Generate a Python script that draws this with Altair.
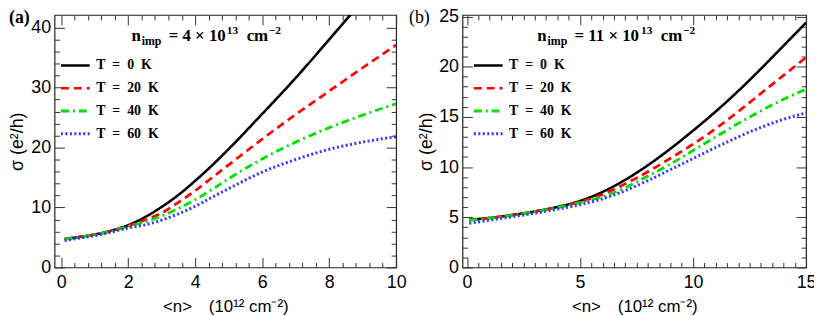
import altair as alt
import pandas as pd

# ---------------- data ----------------
T_LABELS = ["T\u2002=\u20020\u2002K", "T\u2002=\u200220\u2002K",
            "T\u2002=\u200240\u2002K", "T\u2002=\u200260\u2002K"]
LINE_COLORS = ["#000000", "#ff0000", "#00e000", "#3535ff"]
LINE_DASHES = [[1, 0], [8, 5], [8, 4, 2, 4], [2, 2.5]]
LINE_WIDTHS = [2.6, 3.0, 3.0, 1.6]

# panel (a): n_imp = 4e13
n_a = [0.1, 0.5, 1.0, 1.5, 2.0, 2.5, 3.0, 3.5, 4.0, 4.5, 5.0, 6.0, 7.0, 8.0, 9.0, 10.0]
sig_a_T0 = [4.75, 5.05, 5.5, 6.15, 7.05, 8.4, 10.1, 12.1, 14.45, 17.0, 19.75, 25.6, 31.6, 38.0, 44.5, 51.0]
sig_a_T20 = [4.75, 5.05, 5.5, 6.1, 6.95, 7.9, 9.1, 10.85, 12.8, 14.95, 17.1, 21.4, 25.5, 29.4, 33.3, 37.1]
sig_a_T40 = [4.7, 5.0, 5.45, 6.05, 6.85, 7.6, 8.6, 9.85, 11.3, 13.0, 14.8, 18.1, 20.9, 23.3, 25.4, 27.3]
sig_a_T60 = [4.5, 4.85, 5.3, 5.9, 6.6, 7.1, 7.9, 8.95, 10.2, 11.7, 13.15, 15.9, 18.0, 19.7, 20.9, 21.8]

# panel (b): n_imp = 11e13
n_b = [0.1, 1, 2, 3, 4, 5, 6, 7, 8, 9, 10, 11, 12, 13, 14, 15]
sig_b_T0 = [4.75, 4.93, 5.23, 5.58, 6.03, 6.63, 7.53, 8.73, 10.18, 11.83, 13.63, 15.53, 17.58, 19.78, 22.08, 24.38]
sig_b_T20 = [4.75, 4.93, 5.23, 5.58, 5.98, 6.53, 7.28, 8.33, 9.53, 10.88, 12.28, 13.83, 15.53, 17.33, 19.13, 20.93]
sig_b_T40 = [4.7, 4.9, 5.2, 5.55, 5.95, 6.45, 7.05, 7.95, 9.1, 10.3, 11.65, 13.0, 14.35, 15.6, 16.75, 17.75]
sig_b_T60 = [4.4, 4.7, 5.05, 5.4, 5.8, 6.25, 6.85, 7.65, 8.65, 9.75, 10.85, 11.95, 13.0, 13.95, 14.75, 15.4]

# axis ticks
xmaj_a = [0, 2, 4, 6, 8, 10]
xmin_a = [round(0.4 * i, 2) for i in range(1, 25) if i % 5 != 0]
ymaj_a = [0, 10, 20, 30, 40]
ymin_a = [2 * i for i in range(1, 20) if i % 5 != 0]
xmaj_b = [0, 5, 10, 15]
xmin_b = [0.5 * i for i in range(1, 30) if i % 10 != 0]
ymaj_b = [0, 5, 10, 15, 20, 25]
ymin_b = [i for i in range(1, 25) if i % 5 != 0]

XTITLE = "<n>\u2003(10\u00b9\u00b2 cm\u207b\u00b2)"
YTITLE = "\u03c3 (e\u00b2/h)"


def long_df(n, series):
    rows = []
    for lab, ys in zip(T_LABELS, series):
        for x, y in zip(n, ys):
            rows.append({"n": x, "s": y, "T": lab})
    return pd.DataFrame(rows)


SANS = "Liberation Sans"
SERIF = "Liberation Serif"
ONE = pd.DataFrame({"k": [0]})


def tick_axis(orient, vals, size):
    return alt.Axis(orient=orient, values=vals, ticks=True, tickSize=size,
                    offset=-size, labels=False, domain=False, grid=False,
                    title=None, tickColor="#333333", tickWidth=1)


def txt(s, x, y, size, weight="bold", baseline="alphabetic"):
    return alt.Chart(ONE).mark_text(
        text=s, align="left", baseline=baseline, font=SERIF, fontSize=size,
        fontWeight=weight, color="black"
    ).encode(x=alt.value(x), y=alt.value(y))


def panel(df, xdom, ydom, W, H, xmaj, xmin, ymaj, ymin, ytitle_x, leg_x,
          tag, tag_x, tag_weight, ann_x0, ann_num, extra):
    xs = alt.Scale(domain=xdom, nice=False, zero=False)
    ys = alt.Scale(domain=ydom, nice=False, zero=False)
    leg = alt.Legend(title=None, orient="none", legendX=leg_x, legendY=35,
                     symbolType="stroke", symbolSize=841, labelFont=SERIF,
                     labelFontSize=14, labelFontWeight="bold", labelColor="black",
                     rowPadding={"expr": "-2.5"}, labelOffset=5, padding=0,
                     labelLimit=300)
    base = alt.Chart(df)
    lines = base.mark_line(clip=True, interpolate="monotone").encode(
        x=alt.X("n:Q", scale=xs, axis=alt.Axis(
            orient="bottom", values=xmaj, format="d", ticks=False, domain=False,
            grid=False, labelPadding=6, labelFontSize=18, labelFont=SANS,
            labelColor="black", labelFlush=False, labelOverlap=False,
            title=XTITLE, titleFont=SANS, titleFontSize=17, titleFontWeight="normal",
            titleColor="black", titleX=W / 2, titleY=39.5, titleBaseline="middle",
            titleAlign="center")),
        y=alt.Y("s:Q", scale=ys, axis=alt.Axis(
            orient="left", values=ymaj, format="d", ticks=False, domain=False,
            grid=False, labelPadding=4, labelFontSize=18, labelFont=SANS,
            labelColor="black", labelFlush=False, labelOverlap=False,
            title=YTITLE, titleFont=SANS, titleFontSize=18, titleFontWeight="normal",
            titleColor="black", titleX=ytitle_x, titleY=H / 2,
            titleBaseline="middle", titleAlign="center")),
        color=alt.Color("T:N", scale=alt.Scale(domain=T_LABELS, range=LINE_COLORS), legend=leg),
        strokeDash=alt.StrokeDash("T:N", scale=alt.Scale(domain=T_LABELS, range=LINE_DASHES), legend=leg),
        strokeWidth=alt.StrokeWidth("T:N", scale=alt.Scale(domain=T_LABELS, range=LINE_WIDTHS), legend=leg),
    )
    t1 = base.mark_point(opacity=0, clip=True).encode(
        x=alt.X("n:Q", scale=xs, axis=tick_axis("bottom", xmaj, 10)),
        y=alt.Y("s:Q", scale=ys, axis=tick_axis("left", ymaj, 10)))
    t2 = base.mark_point(opacity=0, clip=True).encode(
        x=alt.X("n:Q", scale=xs, axis=tick_axis("bottom", xmin, 5)),
        y=alt.Y("s:Q", scale=ys, axis=tick_axis("left", ymin, 5)))
    t3 = base.mark_point(opacity=0, clip=True).encode(
        x=alt.X("n:Q", scale=xs, axis=tick_axis("top", xmaj, 10)),
        y=alt.Y("s:Q", scale=ys, axis=tick_axis("right", ymaj, 10)))
    t4 = base.mark_point(opacity=0, clip=True).encode(
        x=alt.X("n:Q", scale=xs, axis=tick_axis("top", xmin, 5)),
        y=alt.Y("s:Q", scale=ys, axis=tick_axis("right", ymin, 5)))
    texts = [
        txt(tag, tag_x, 3, 18, weight=tag_weight, baseline="middle"),
        txt("n", ann_x0, 26, 17),
        txt("imp", ann_x0 + 10.2, 30, 12),
        txt("= " + ann_num + " \u00d7 10", ann_x0 + 37.5, 26, 17),
        txt("13", ann_x0 + 96.2 + extra, 19, 11.5),
        txt("cm", ann_x0 + 116.2 + extra, 26, 17),
        txt("\u22122", ann_x0 + 138.5 + extra, 19, 11.5),
    ]
    return alt.layer(lines, t1, t2, t3, t4, *texts).resolve_scale(
        x="independent", y="independent").resolve_axis(
        x="independent", y="independent").properties(width=W, height=H)


H = 255
pa = panel(long_df(n_a, [sig_a_T0, sig_a_T20, sig_a_T40, sig_a_T60]),
           [-0.2, 10], [0, 42.1], 345, H, xmaj_a, xmin_a, ymaj_a, ymin_a, -37, 5,
           "(a)", -46, "bold", 77.8, "4", 0)
pb = panel(long_df(n_b, [sig_b_T0, sig_b_T20, sig_b_T40, sig_b_T60]),
           [-0.2, 15], [0, 25.15], 347, H, xmaj_b, xmin_b, ymaj_b, ymin_b, -36, 10,
           "(b)", -54, "normal", 75.6, "11", 8.5)

chart = alt.hconcat(pa, pb, spacing=67, bounds="flush").resolve_scale(
    color="independent", strokeDash="independent", strokeWidth="independent"
).properties(
    padding={"left": 0, "top": -3.5, "right": -3, "bottom": 0}
).configure_view(stroke="#222222", strokeWidth=1.2).configure_axis(grid=False)

chart.save("out.html", embed_options={"renderer": "svg", "actions": False})
